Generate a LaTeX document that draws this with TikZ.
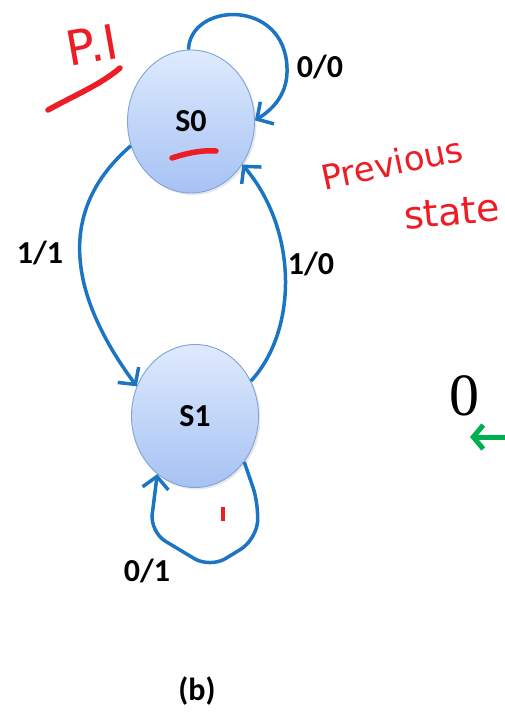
\documentclass[tikz,border=0pt]{standalone}
\usepackage{fontspec}
\setsansfont{Carlito}
\newfontfamily\handfont{DejaVu Sans}
\newfontfamily\serifzero{Liberation Serif}
\usetikzlibrary{shapes.geometric,arrows.meta,shadows}
\definecolor{edgeblue}{HTML}{1B75C2}
\definecolor{stateborder}{HTML}{7FA3D8}
\definecolor{statetop}{HTML}{DFEAFD}
\definecolor{statebot}{HTML}{A6C2F4}
\definecolor{inkred}{HTML}{EE1C25}
\definecolor{arrgreen}{HTML}{00B050}
\tikzset{
  statenode/.style={ellipse, draw=stateborder, line width=0.9pt, top color=statetop, bottom color=statebot,
    minimum width=127pt, minimum height=143pt, inner sep=0pt,
    font=\fontsize{32}{36}\selectfont\sffamily\bfseries,
    drop shadow={opacity=0.18, shadow xshift=2pt, shadow yshift=-2pt}},
  trans/.style={draw=edgeblue, line width=3.5pt, -{Straight Barb[length=12pt,width=26pt,line width=3.5pt]}},
  elabel/.style={font=\fontsize{32}{36}\selectfont\sffamily\bfseries, inner sep=0pt},
  ink/.style={draw=inkred, line width=5.5pt, line cap=round},
  inktext/.style={text=inkred, inner sep=0pt}
}
\begin{document}
\begin{tikzpicture}[x=1pt,y=-1pt]
\useasboundingbox[fill=white] (0,0) rectangle (504,715);

\node[statenode] (s0) at (191,121.5) {S0};
\node[statenode] (s1) at (195,416) {S1};

% self loop S0
\draw[trans] (s0.92) .. controls (190,2) and (285,-2) .. (287,68)
  .. controls (288,92) and (275,108) .. (s0.1);
% S0 -> S1
\draw[trans] (s0.202) .. controls (62,205) and (62,285) .. (s1.153);
% S1 -> S0
\draw[trans] (s1.32) .. controls (298,330) and (298,230) .. (s0.-40);
% self loop S1
\draw[trans, rounded corners=18pt] (s1.-43) -- (259,505) -- (256,540) -- (210,568) -- (150,532) -- (s1.237);

\node[elabel] (l00) at (320,67) {0/0};
\node[elabel] (l11) at (40,253) {1/1};
\node[elabel] (l10) at (311,264) {1/0};
\node[elabel] (l01) at (147,571) {0/1};
\node[elabel] (cap) at (197,691) {(b)};

% green zero and arrow at right edge
\node[font=\fontsize{60}{64}\selectfont\serifzero, inner sep=0pt] (zero) at (464,396) {0};
\coordinate (gstart) at (506,437);
\coordinate (gend) at (470,437);
\draw[draw=arrgreen, line width=5pt, -{Straight Barb[length=10pt,width=24pt,line width=5pt]}] (gstart) -- (gend);

% red handwritten annotations
\node[inktext, font=\fontsize{48}{52}\selectfont\handfont, rotate=10] (pi) at (92,45) {P.I};
\draw[ink] (48,110) .. controls (75,95) and (100,85) .. (120,68);
\draw[ink] (172,158) .. controls (190,152) and (205,150) .. (216,151);
\node[inktext, font=\fontsize{34}{38}\selectfont\handfont, rotate=12] (prev) at (392,163) {Previous};
\node[inktext, font=\fontsize{38}{42}\selectfont\handfont, rotate=5] (slate) at (452,212) {state};
\draw[draw=inkred, line width=4pt] (223,507) -- (223,521);
\end{tikzpicture}
\end{document}
